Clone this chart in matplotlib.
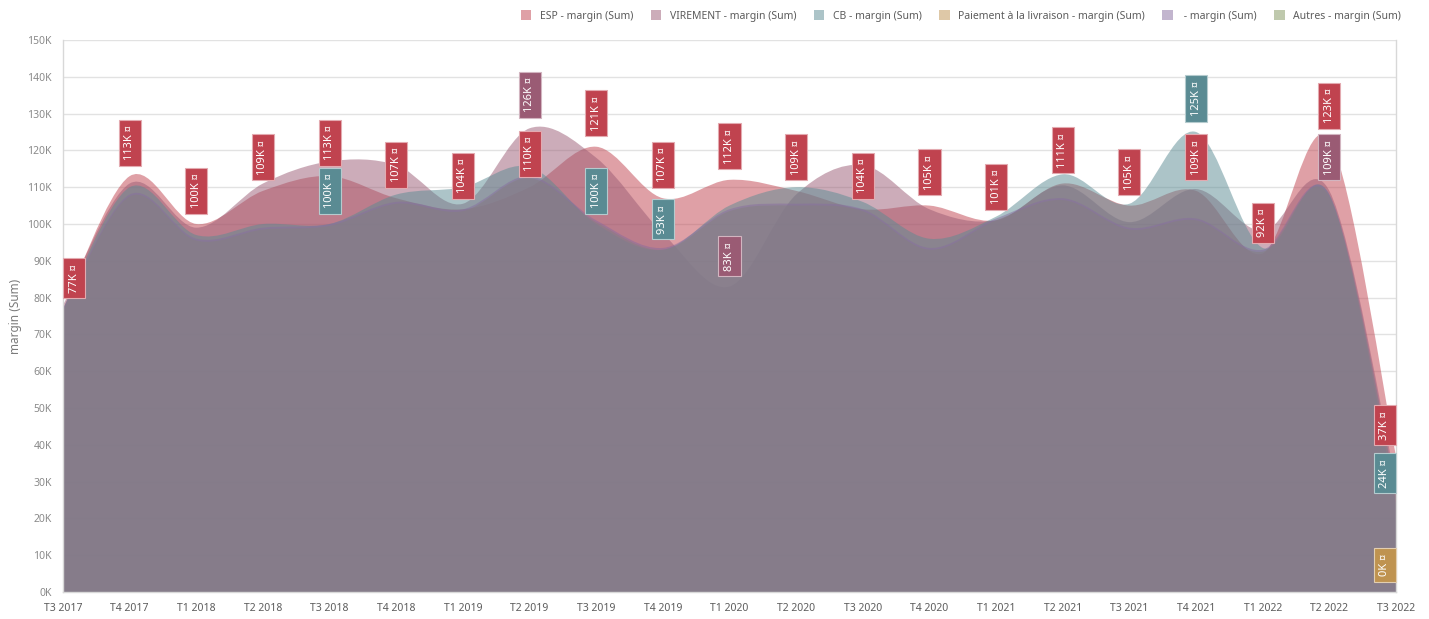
import matplotlib
matplotlib.use('Agg')
import matplotlib.pyplot as plt
from matplotlib.path import Path
from matplotlib.patches import PathPatch, Patch
from matplotlib.ticker import MultipleLocator, FuncFormatter
import numpy as np

plt.rcParams['font.family'] = ['Noto Sans', 'DejaVu Sans']

#************************DATA (margin, thousands)************************
quarters = ['T3 2017', 'T4 2017', 'T1 2018', 'T2 2018', 'T3 2018', 'T4 2018', 'T1 2019',
            'T2 2019', 'T3 2019', 'T4 2019', 'T1 2020', 'T2 2020', 'T3 2020', 'T4 2020',
            'T1 2021', 'T2 2021', 'T3 2021', 'T4 2021', 'T1 2022', 'T2 2022', 'T3 2022']

esp = [77, 113, 100, 109, 113, 107, 104, 110, 121, 107, 112, 109, 104, 105, 101, 111, 105, 109, 92, 123, 37]
virement = [78, 111, 99, 111, 117, 116, 105.5, 126, 118, 97.5, 83, 108, 116, 104, 101, 110.5, 100.5, 109.5, 98, 109, 30]
cb = [77, 110, 97, 100, 100, 108, 110, 115.5, 100, 93, 105, 110, 106, 96, 102, 113.5, 105.5, 125, 93.5, 108, 24]
livraison = [np.nan] * 20 + [0]
blank = [77, 108, 96, 99, 100, 106, 104, 113, 101, 93.5, 104, 105.5, 104, 93.5, 101.5, 107, 99, 101.5, 93, 108, 28]
autres = [76.5, 107.5, 95.5, 98.5, 99.5, 105.5, 103.5, 112.5, 100.5, 93, 103.5, 105, 103.5, 93, 101, 106.5, 98.5, 101, 92.5, 107.5, 27.5]

seriesNames = ['ESP - margin (Sum)', 'VIREMENT - margin (Sum)', 'CB - margin (Sum)',
               'Paiement à la livraison - margin (Sum)', ' - margin (Sum)', 'Autres - margin (Sum)']
seriesValues = [esp, virement, cb, livraison, blank, autres]
seriesColors = ['#c0434f', '#9a5b74', '#5a8b93', '#bf9350', '#876d9f', '#81955d']
drawOrder = [0, 1, 2, 5, 3, 4]

# which points carry a value label, per series index
labelPoints = {
    0: list(range(21)),
    1: [7, 10, 19],
    2: [4, 8, 9, 17, 20],
    3: [20],
}

#************************STYLE************************
gridColor = '#e2e2e2'
axisTextColor = '#8a8a8a'
xTextColor = '#5c5c5c'
areaAlpha = 0.5

#************************HELPERS************************
def splinePath(xs, ys):
	# catmull-rom through the points, written as cubic bezier segments, closed down to zero
	pts = np.column_stack([xs, ys])
	n = len(pts)
	verts = [(xs[0], 0), tuple(pts[0])]
	codes = [Path.MOVETO, Path.LINETO]
	for k in range(n - 1):
		p0 = pts[max(k - 1, 0)]
		p1 = pts[k]
		p2 = pts[k + 1]
		p3 = pts[min(k + 2, n - 1)]
		c1 = p1 + (p2 - p0) / 6.0
		c2 = p2 - (p3 - p1) / 6.0
		verts += [tuple(c1), tuple(c2), tuple(p2)]
		codes += [Path.CURVE4] * 3
	verts += [(xs[-1], 0), (xs[0], 0)]
	codes += [Path.LINETO, Path.CLOSEPOLY]
	return Path(verts, codes)

def lighten(color, amount):
	rgb = np.array(matplotlib.colors.to_rgb(color))
	return tuple(rgb + (1 - rgb) * amount)

#************************PLOT************************
fig = plt.figure(figsize=(14.29, 6.19), dpi=100)
ax = fig.add_axes([0.0441, 0.0436, 0.9328, 0.8918])

x = np.arange(len(quarters))
for s in drawOrder:
	vals = np.array(seriesValues[s], dtype=float)
	mask = ~np.isnan(vals)
	if mask.sum() < 2:
		continue
	patch = PathPatch(splinePath(x[mask], vals[mask]), facecolor=seriesColors[s],
	                  edgecolor='none', alpha=areaAlpha, zorder=2)
	ax.add_patch(patch)

# value labels, rotated, in coloured boxes
for s, idxs in labelPoints.items():
	for i in idxs:
		v = seriesValues[s][i]
		dx = 0
		if i == 0:
			dx = 8
		elif i == len(quarters) - 1:
			dx = -8
		ax.annotate('{:.0f}K ¤'.format(v), xy=(i, v), xytext=(dx, 11.5), textcoords='offset points',
		            rotation=90, ha='center', va='bottom', fontsize=8, color='white',
		            bbox=dict(boxstyle='square,pad=0.5', fc=seriesColors[s],
		                      ec=lighten(seriesColors[s], 0.55), lw=0.8),
		            zorder=5, annotation_clip=False)

ax.set_xlim(0, len(quarters) - 1)
ax.set_ylim(0, 150)
ax.set_xticks(x)
ax.set_xticklabels(quarters)
ax.yaxis.set_major_locator(MultipleLocator(10))
ax.yaxis.set_major_formatter(FuncFormatter(lambda v, pos: '{:.0f}K'.format(v)))
ax.grid(True, axis='y', color=gridColor, lw=1, zorder=0)
ax.set_axisbelow(True)
ax.tick_params(axis='both', length=0, labelsize=7.5)
ax.tick_params(axis='y', colors=axisTextColor, pad=8)
ax.tick_params(axis='x', colors=xTextColor, pad=8)
for side in ['left', 'right', 'bottom']:
	ax.spines[side].set_color('#d8d8d8')
	ax.spines[side].set_linewidth(1)
ax.spines['top'].set_visible(False)
ax.set_ylabel('margin (Sum)', color='#7a7a7a', fontsize=8.5, labelpad=4)

handles = [Patch(facecolor=c, alpha=areaAlpha, edgecolor='none') for c in seriesColors]
leg = fig.legend(handles, seriesNames, ncol=6, loc='center right', bbox_to_anchor=(0.987, 0.974),
                 frameon=False, fontsize=7.5, handlelength=1.0, handleheight=1.0,
                 handletextpad=0.8, columnspacing=1.7)
for t in leg.get_texts():
	t.set_color('#5c5c5c')

fig.savefig('out.png', dpi=100)
